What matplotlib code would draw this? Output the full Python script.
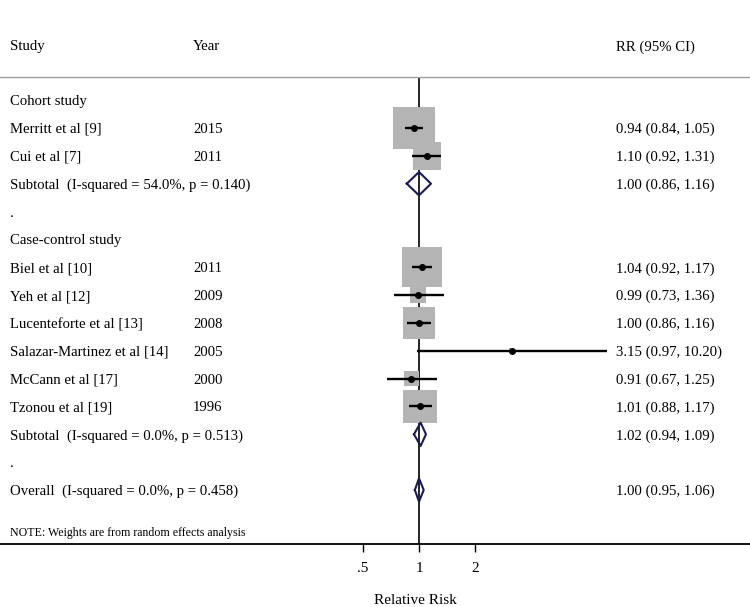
import matplotlib
matplotlib.use("Agg")
import matplotlib.pyplot as plt
import numpy as np

plt.rcParams['font.family'] = ['Liberation Serif', 'DejaVu Serif']

# study level data
studies = ["Merritt et al [9]", "Cui et al [7]",
           "Biel et al [10]", "Yeh et al [12]", "Lucenteforte et al [13]",
           "Salazar-Martinez et al [14]", "McCann et al [17]", "Tzonou et al [19]"]
years = ["2015", "2011", "2011", "2009", "2008", "2005", "2000", "1996"]
rr = [0.94, 1.10, 1.04, 0.99, 1.00, 3.15, 0.91, 1.01]
ci_low = [0.84, 0.92, 0.92, 0.73, 0.86, 0.97, 0.67, 0.88]
ci_high = [1.05, 1.31, 1.17, 1.36, 1.16, 10.20, 1.25, 1.17]
weights = [26.0, 11.6, 23.6, 4.0, 14.6, 0.3, 3.5, 16.6]
study_rows = [1, 2, 6, 7, 8, 9, 10, 11]

# pooled estimates
pooled_labels = ["Subtotal  (I-squared = 54.0%, p = 0.140)",
                 "Subtotal  (I-squared = 0.0%, p = 0.513)",
                 "Overall  (I-squared = 0.0%, p = 0.458)"]
pooled_rr = [1.00, 1.02, 1.00]
pooled_low = [0.86, 0.94, 0.95]
pooled_high = [1.16, 1.09, 1.06]
pooled_rows = [3, 12, 14]

group_labels = ["Cohort study", "Case-control study"]
group_rows = [0, 5]
dot_rows = [4, 13]

fig = plt.figure(figsize=(7.5, 6.07), dpi=100)
ax = fig.add_axes([0, 0.1038, 1, 0.7693])
ax.set_xscale('log')
ax.set_xlim(2 ** (-419 / 56), 2 ** (331 / 56))
ax.set_ylim(15.94, -0.83)

tr = ax.get_yaxis_transform()
fs = 10.6
va = 'center_baseline'

# null line
ax.axvline(1, color='black', lw=1.2, zorder=1)

# boxes, CIs and point estimates
sizes = [35.2 * w for w in weights]
ax.scatter(rr, study_rows, s=sizes, marker='s', color='#b4b4b4', edgecolor='none', zorder=2)
for r, lo, hi, y in zip(rr, ci_low, ci_high, study_rows):
    ax.plot([lo, hi], [y, y], color='black', lw=1.7, zorder=3, solid_capstyle='butt')
ax.plot(rr, study_rows, 'o', color='black', ms=4, zorder=4)

# diamonds
for r, lo, hi, y in zip(pooled_rr, pooled_low, pooled_high, pooled_rows):
    h = 0.42
    ax.plot([lo, r, hi, r, lo], [y, y - h, y, y + h, y], color='#1a1a5a', lw=1.5, zorder=3)

# text columns
ax.text(0.0133, -1.97, "Study", transform=tr, fontsize=fs, va=va, clip_on=False)
ax.text(0.2573, -1.97, "Year", transform=tr, fontsize=fs, va=va, clip_on=False)
ax.text(0.8213, -1.97, "RR (95% CI)", transform=tr, fontsize=fs, va=va, clip_on=False)

for lab, y in zip(group_labels, group_rows):
    ax.text(0.0133, y, lab, transform=tr, fontsize=fs, va=va)
for y in dot_rows:
    ax.text(0.0133, y, ".", transform=tr, fontsize=fs, va=va)
for s, yr, r, lo, hi, y in zip(studies, years, rr, ci_low, ci_high, study_rows):
    ax.text(0.0133, y, s, transform=tr, fontsize=fs, va=va)
    ax.text(0.2573, y, yr, transform=tr, fontsize=fs, va=va)
    ax.text(0.8213, y, f"{r:.2f} ({lo:.2f}, {hi:.2f})", transform=tr, fontsize=fs, va=va)
for lab, r, lo, hi, y in zip(pooled_labels, pooled_rr, pooled_low, pooled_high, pooled_rows):
    ax.text(0.0133, y, lab, transform=tr, fontsize=fs, va=va)
    ax.text(0.8213, y, f"{r:.2f} ({lo:.2f}, {hi:.2f})", transform=tr, fontsize=fs, va=va)

ax.text(0.0133, 15.5, "NOTE: Weights are from random effects analysis", transform=tr,
        fontsize=8.6, va=va)

# axes styling
for side in ['left', 'right']:
    ax.spines[side].set_visible(False)
ax.spines['top'].set_color('#a0a0a0')
ax.spines['top'].set_linewidth(1.0)
ax.spines['bottom'].set_linewidth(1.3)
ax.set_yticks([])
ax.set_xticks([0.5, 1, 2])
ax.set_xticklabels(['.5', '1', '2'])
ax.xaxis.set_minor_locator(matplotlib.ticker.NullLocator())
ax.tick_params(axis='x', direction='out', length=6, width=1, labelsize=11, pad=7)

fig.text(415.5 / 750, 1 - 600 / 607, "Relative Risk", fontsize=11, ha='center', va='center')

fig.savefig("out.png", dpi=100)
